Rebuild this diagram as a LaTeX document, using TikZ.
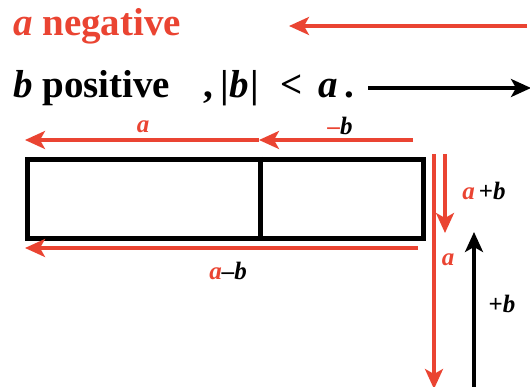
\documentclass[tikz,border=0pt]{standalone}
\usepackage{fontspec}
\setmainfont{Liberation Serif}
\usetikzlibrary{arrows.meta}
\definecolor{myred}{RGB}{234,68,50}
\tikzset{
  redarr/.style={draw=myred, line width=3.3pt, -{Stealth[length=20pt,width=18pt,inset=5pt]}},
  blkarr/.style={draw=black, line width=3.3pt, -{Stealth[length=20pt,width=18pt,inset=5pt]}},
  bigtxt/.style={inner sep=0pt, anchor=base west, font=\fontsize{39}{42}\selectfont\bfseries},
  lbl/.style={inner sep=0pt, font=\fontsize{25}{28}\selectfont\bfseries\itshape},
  box/.style={draw=black, line width=5pt}
}
\begin{document}
\begin{tikzpicture}[x=1pt,y=-1pt]
\useasboundingbox (0,0) rectangle (530,387);
% headings
\node[bigtxt, text=myred] (t1) at (13,36) {\textit{a} negative};
\node[bigtxt] (t2) at (13,98) {\textit{b} positive};
\node[bigtxt] (t3) at (203,98) {,};
\node[bigtxt] (t4) at (220,98) {|\kern1pt\textit{b}\kern1pt|};
\node[bigtxt] (t5) at (280,98) {<};
\node[bigtxt] (t6) at (318,98) {\textit{a}\,.};
\coordinate (r1s) at (527,26);
\coordinate (r1e) at (289,26);
\draw[redarr] (r1s) -- (r1e);
\coordinate (b1s) at (368,88);
\coordinate (b1e) at (531,88);
\draw[blkarr] (b1s) -- (b1e);
% rectangle
\node[box, minimum width=396pt, minimum height=79pt, inner sep=0pt, anchor=north west] (rect) at (25,157) {};
\coordinate (dtop) at (260,157);
\coordinate (dbot) at (260,236);
\draw[line width=5pt] (dtop) -- (dbot);
% upper arrows
\coordinate (u0) at (413,140);
\coordinate (u1) at (259,140);
\coordinate (u2) at (25,140);
\draw[redarr] (u1) -- (u2);
\draw[redarr] (u0) -- (u1);
\node[lbl, text=myred] (la) at (143,127) {a};
\node[lbl] (lmb) at (340,126) {\textcolor{myred}{\textendash}b};
% lower arrow
\coordinate (w0) at (418,248);
\coordinate (w1) at (25,248);
\draw[redarr] (w0) -- (w1);
\node[lbl] (lamb) at (228,271) {\textcolor{myred}{a}\textendash b};
% vertical arrows
\coordinate (v0) at (434,154);
\coordinate (v1) at (434,389);
\draw[redarr] (v0) -- (v1);
\coordinate (s0) at (445,154);
\coordinate (s1) at (445,233);
\draw[redarr] (s0) -- (s1);
\coordinate (k0) at (474,392);
\coordinate (k1) at (474,232);
\draw[blkarr] (k0) -- (k1);
\node[lbl] (lapb) at (484,191) {\textcolor{myred}{a}\,\textup{+}b};
\node[lbl, text=myred] (la2) at (448,260) {a};
\node[lbl] (lpb) at (502,304) {\textup{+}b};
\end{tikzpicture}
\end{document}
